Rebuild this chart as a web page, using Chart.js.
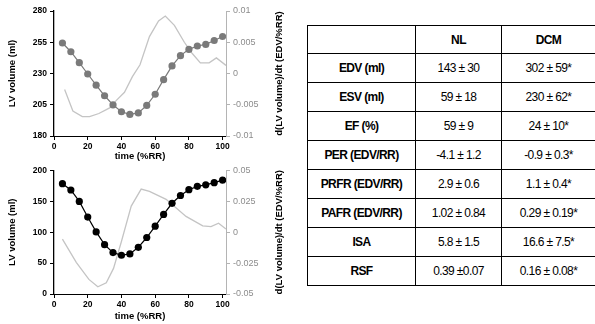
<!DOCTYPE html>
<html>
<head>
<meta charset="utf-8">
<script src="https://cdn.jsdelivr.net/npm/chart.js@4.4.1/dist/chart.umd.min.js"></script>
<style>
  body { margin: 0; background: #fff; font-family: "Liberation Sans", Arial, sans-serif; }
  #page { position: relative; width: 595px; height: 324px; overflow: hidden; }
  .plot { position: absolute; left: 0; width: 300px; height: 162px; }
  #top { top: 0; }
  #bottom { top: 162px; }
  table {
    position: absolute; left: 307px; top: 25px; width: 288px; table-layout: fixed;
    border-collapse: collapse; font-size: 12px; letter-spacing: -0.6px;
  }
  td { border: 1px solid #000; text-align: center; height: 28px; padding: 0; white-space: nowrap; }
  tr:first-child td { height: 27px; }
  td.h { font-weight: bold; }
</style>
</head>
<body>
<div id="page">
  <div class="plot" id="top"><canvas id="js--chart-dcm" width="300" height="162"></canvas></div>
  <div class="plot" id="bottom"><canvas id="js--chart-nl" width="300" height="162"></canvas></div>
  <table id="js--table">
    <colgroup><col style="width:108px"><col style="width:86px"><col style="width:94px"></colgroup>
    <tbody id="js--table-body"></tbody>
  </table>
</div>
<script>
const times = [5, 10, 15, 20, 25, 30, 35, 40, 45, 50, 55, 60, 65, 70, 75, 80, 85, 90, 95, 100];

const dcmVolume = [254.4, 247.4, 238.7, 229.6, 220.7, 212.2, 204.9, 199.4, 197.3, 198.5, 204.5, 213.4, 225.1, 236.1, 244.3, 249.3, 252, 253.3, 256.4, 259.6];
const nlVolume = [178.5, 168.3, 149.8, 124.5, 100.5, 79.8, 67, 62.7, 64.8, 75.5, 91.4, 109.7, 128.8, 146.8, 159.4, 168.8, 174.2, 176.6, 180.1, 184.2];

const dcmRateTimes = [6.3, 11.2, 16.8, 21.1, 26.6, 33, 37, 41.8, 46.5, 51, 56.6, 62, 66, 71.4, 77.3, 82, 86.8, 92, 96.3, 102];
const dcmRate = [-0.00255, -0.006, -0.0069, -0.0069, -0.0064, -0.0055, -0.0043, -0.003, -0.0005, 0.0014, 0.0059, 0.0084, 0.0092, 0.0077, 0.005, 0.0032, 0.0017, 0.0017, 0.0025, 0.0013];

const nlRateTimes = [5, 13.2, 20.7, 26, 31, 35.3, 39.9, 45.8, 51.7, 56.6, 66.5, 78.3, 88.2, 93.1, 97.6, 102];
const nlRate = [-0.0056, -0.0244, -0.0382, -0.0442, -0.0409, -0.0293, -0.0079, 0.0211, 0.0349, 0.033, 0.0266, 0.0128, 0.0051, 0.0045, 0.0073, 0.0026];

const xTicks = [0, 20, 40, 60, 80, 100];
const dcmVolumeTicks = [180, 280, 25];
const nlVolumeTicks = [0, 200, 50];
const dcmRateTicks = [-0.01, 0.01, 0.005];
const nlRateTicks = [-0.05, 0.05, 0.025];

const rateTitle = "d(LV volume)/dt (EDV/%RR)";

const tableHead = ["", "NL", "DCM"];
const rowLabels = ["EDV (ml)", "ESV (ml)", "EF (%)", "PER (EDV/RR)", "PRFR (EDV/RR)", "PAFR (EDV/RR)", "ISA", "RSF"];
const nlValues = ["143 \u00b1 30", "59 \u00b1 18", "59 \u00b1 9", "-4.1 \u00b1 1.2", "2.9 \u00b1 0.6", "1.02 \u00b1 0.84", "5.8 \u00b1 1.5", "0.39 \u00b10.07"];
const dcmValues = ["302 \u00b1 59*", "230 \u00b1 62*", "24 \u00b1 10*", "-0.9 \u00b1 0.3*", "1.1 \u00b1 0.4*", "0.29 \u00b1 0.19*", "16.6 \u00b1 7.5*", "0.16 \u00b1 0.08*"];

// table
let tbody = document.getElementById("js--table-body");
let html = "<tr>" + tableHead.map(h => '<td class="h">' + h + "</td>").join("") + "</tr>";
rowLabels.forEach((label, i) => {
    html += '<tr><td class="h">' + label + "</td><td>" + nlValues[i] + "</td><td>" + dcmValues[i] + "</td></tr>";
});
tbody.innerHTML = html;

const FONT = "'Liberation Sans', Arial, sans-serif";

// right axis title reads bottom-to-top like the left one
const rightTitle = {
    id: 'rightTitle',
    afterDraw(chart) {
        let ctx = chart.ctx;
        let area = chart.chartArea;
        ctx.save();
        ctx.translate(279, (area.top + area.bottom) / 2);
        ctx.rotate(-Math.PI / 2);
        ctx.font = "bold 9.5px " + FONT;
        ctx.fillStyle = '#000';
        ctx.textAlign = 'center';
        ctx.textBaseline = 'middle';
        ctx.fillText(rateTitle, 0, 0);
        ctx.restore();
    }
};

function pairs(xs, ys) {
    return xs.map((x, i) => ({x: x, y: ys[i]}));
}

function makeChart(id, volume, rateX, rate, volTicks, rateTicks, markColor, padTop, xHeight, xTitlePad) {
    return new Chart(document.getElementById(id), {
        type: 'line',
        data: {
            datasets: [
                {
                    data: pairs(times, volume),
                    yAxisID: 'y',
                    order: 0,
                    borderColor: markColor,
                    backgroundColor: markColor,
                    borderWidth: 1.2,
                    pointRadius: 3.6,
                    pointBorderWidth: 0,
                    tension: 0
                },
                {
                    data: pairs(rateX, rate),
                    yAxisID: 'y2',
                    order: 1,
                    borderColor: '#c4c4c4',
                    borderWidth: 1.3,
                    pointRadius: 0,
                    tension: 0
                }
            ]
        },
        options: {
            responsive: false,
            animation: false,
            layout: {padding: {top: padTop, left: 3, right: 14, bottom: 0}},
            plugins: {legend: {display: false}, tooltip: {enabled: false}},
            scales: {
                x: {
                    type: 'linear',
                    min: 0,
                    max: 102,
                    afterBuildTicks: s => { s.ticks = xTicks.map(v => ({value: v})); },
                    afterFit: s => { s.height = xHeight; },
                    ticks: {color: '#000', font: {family: FONT, size: 8.5, weight: 'bold'}, padding: 2, maxRotation: 0},
                    grid: {drawOnChartArea: false, color: '#000', tickLength: 4},
                    border: {color: '#000', width: 1},
                    title: {display: true, text: 'time (%RR)', color: '#000', padding: {top: 0, bottom: xTitlePad},
                        font: {family: FONT, size: 9.5, weight: 'bold'}}
                },
                y: {
                    position: 'left',
                    min: volTicks[0],
                    max: volTicks[1],
                    afterFit: s => { s.width = 51; },
                    ticks: {stepSize: volTicks[2], color: '#000', padding: 3, font: {family: FONT, size: 8.5, weight: 'bold'}},
                    grid: {drawOnChartArea: false, color: '#000', tickLength: 4},
                    border: {color: '#000', width: 1.3},
                    title: {display: true, text: 'LV volume (ml)', color: '#000', padding: {top: 4, bottom: 0},
                        font: {family: FONT, size: 9.5, weight: 'bold'}}
                },
                y2: {
                    position: 'right',
                    min: rateTicks[0],
                    max: rateTicks[1],
                    afterFit: s => { s.width = 60; },
                    ticks: {stepSize: rateTicks[2], color: '#8c8c8c', padding: 3, font: {family: FONT, size: 9},
                        callback: v => String(+v.toFixed(4))},
                    grid: {drawOnChartArea: false, color: '#b4b4b4', tickLength: 4},
                    border: {color: '#b4b4b4', width: 1}
                }
            }
        },
        plugins: [rightTitle]
    });
}

const chartDcm = makeChart("js--chart-dcm", dcmVolume, dcmRateTimes, dcmRate,
    dcmVolumeTicks, dcmRateTicks, '#7a7a7a', 11, 26, 0);
const chartNl = makeChart("js--chart-nl", nlVolume, nlRateTimes, nlRate,
    nlVolumeTicks, nlRateTicks, '#000', 8, 30, 2);
</script>
</body>
</html>
